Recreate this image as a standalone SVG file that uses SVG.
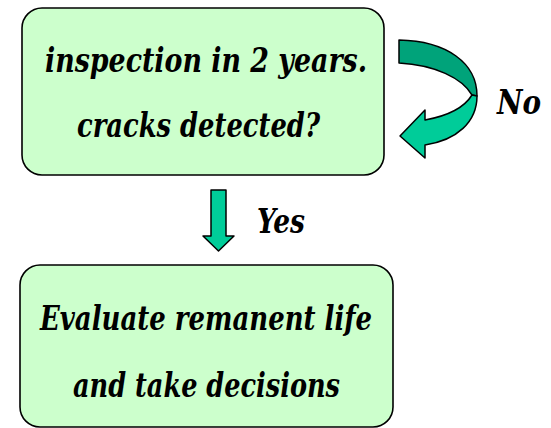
<svg xmlns="http://www.w3.org/2000/svg" width="551" height="428" viewBox="0 0 551 428">
<style>
.box{fill:#CCFFCC;stroke:#000;stroke-width:1.6}
.t{font-family:'DejaVu Serif Condensed','DejaVu Serif','Liberation Serif',serif;font-weight:700;font-style:italic;font-size:34px;fill:#000}
.arr{stroke:#000;stroke-width:1.5;stroke-linejoin:round}
</style>
<rect width="551" height="428" fill="#fff"/>
<g id="node-inspection">
<rect class="box" x="22" y="8" width="362" height="167" rx="20"/>
<text class="t" x="45" y="72" textLength="322" lengthAdjust="spacingAndGlyphs">inspection in 2 years.</text>
<text class="t" x="77" y="137" textLength="243" lengthAdjust="spacingAndGlyphs">cracks detected?</text>
</g>
<g id="node-evaluate">
<rect class="box" x="20" y="265" width="373" height="162" rx="20"/>
<text class="t" x="40" y="330" textLength="332" lengthAdjust="spacingAndGlyphs">Evaluate remanent life</text>
<text class="t" x="73" y="397" textLength="267" lengthAdjust="spacingAndGlyphs">and take decisions</text>
</g>
<g id="connectors">
<g id="loop-no">
<path class="arr" fill="#00A37A" d="M399,40 C447,41 477,63 477,96 L472,95 C462,78 435,65 399,63 Z"/>
<path class="arr" fill="#00CC99" d="M477,96 C477,122 457,140 425,145 L425,158 L400,136 L425,110 L425,120 C447,116 464,108 472,95 Z"/>
<text class="t" x="497" y="114" textLength="44" lengthAdjust="spacingAndGlyphs">No</text>
</g>
<g id="down-yes">
<path class="arr" fill="#00CC99" d="M211,190 L226,190 L226,236 L234,236 L218.5,251 L203,236 L211,236 Z"/>
<text class="t" x="257" y="233" textLength="48" lengthAdjust="spacingAndGlyphs">Yes</text>
</g>
</g>
</svg>
